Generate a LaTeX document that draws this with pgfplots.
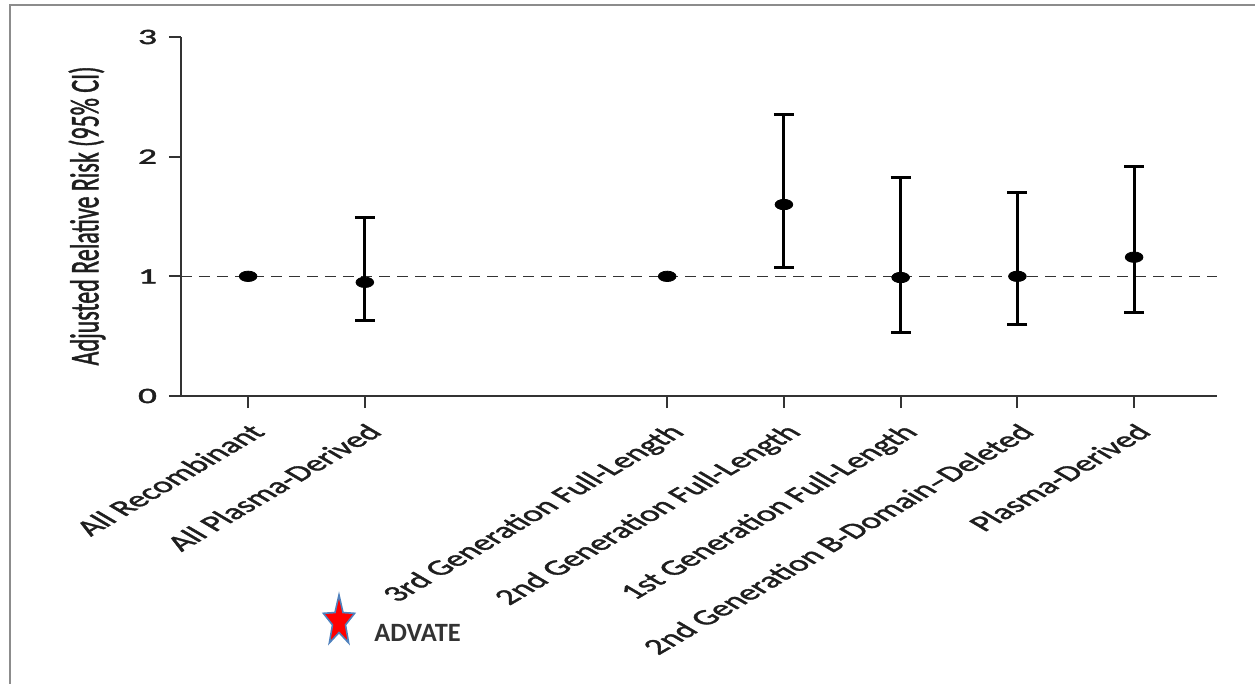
\documentclass[border=0pt]{standalone}
\usepackage{pgfplots}
\pgfplotsset{compat=1.18}
\usepackage{fontspec}
\setmainfont{Carlito}
\newfontfamily\labelfont{Carlito}[FakeBold=1.5, Ligatures=TeX]
\usetikzlibrary{shapes.geometric}
\definecolor{axgray}{HTML}{333333}
\definecolor{txtgray}{HTML}{1E1E1E}
\definecolor{framegray}{HTML}{8C8C8C}
\definecolor{starblue}{HTML}{4F81BD}
\pgfplotstableread{
x y ep em
1 0.95 0.545 0.323
4.59 1.60 0.756 0.526
5.59 0.99 0.84 0.46
6.59 1.00 0.70 0.40
7.59 1.16 0.76 0.46
}\cidata
\pgfplotstableread{
x y
0 1.00
3.59 1.00
}\refdata
\begin{document}
\begin{tikzpicture}
\path[use as bounding box] (0,0) rectangle (627.5pt,-342pt);
\draw[framegray, line width=1.2pt] (5pt,-342pt) -- (5pt,-2.5pt) -- (627.5pt,-2.5pt);
\begin{axis}[
  at={(90.5pt,-198pt)}, anchor=south west,
  width=518pt, height=179.5pt, scale only axis,
  xmin=-0.575, xmax=8.30, ymin=0, ymax=3,
  axis lines=left, axis line style={-, axgray, line width=0.9pt},
  tick align=outside, major tick length=6pt, tick style={axgray, line width=0.9pt},
  xtick={0,1,3.59,4.59,5.59,6.59,7.59},
  xticklabels={All Recombinant, All Plasma-Derived, 3rd Generation Full-Length, 2nd Generation Full-Length, 1st Generation Full-Length, 2nd Generation B-Domain\textendash Deleted, Plasma-Derived},
  ytick={0,1,2,3},
  /pgf/number format/assume math mode=true,
  ticklabel style={font=\labelfont\fontsize{11pt}{13pt}\selectfont, text=txtgray},
  xticklabel style={xscale=1.7, rotate=45, anchor=north east, inner sep=1pt, xshift=-4pt, yshift=-4pt},
  yticklabel style={xscale=1.7, anchor=east},
  clip=false,
]
\addplot[axgray, line width=0.65pt, dash pattern=on 5.5pt off 3.5pt, forget plot] coordinates {(-0.575,1) (8.30,1)};
\addplot[only marks, mark=*, mark size=2.6pt, mark options={xscale=1.7, black, fill=black},
  error bars/.cd, y dir=both, y explicit,
  error bar style={line width=1.5pt, black},
  error mark options={rotate=90, mark size=5pt, line width=1.5pt, black}]
  table[x=x, y=y, y error plus=ep, y error minus=em] {\cidata};
\addplot[only marks, mark=*, mark size=2.6pt, mark options={xscale=1.7, black, fill=black}]
  table[x=x, y=y] {\refdata};
\end{axis}
\node[text=txtgray] at (43.5pt,-108pt) {\rotatebox{90}{\scalebox{1}[1.7]{\labelfont\fontsize{12pt}{14pt}\selectfont Adjusted Relative Risk (95\% CI)}}};
\node[star, star points=5, star point ratio=2.4, minimum size=26.5pt, inner sep=0pt, fill=red, draw=starblue, line width=0.8pt, xscale=0.62] at (169.5pt,-310.75pt) {};
\node[anchor=base west, inner sep=0pt, text=axgray, font=\bfseries\fontsize{13.2pt}{15pt}\selectfont] at (187pt,-320.5pt) {ADVATE};
\end{tikzpicture}
\end{document}
